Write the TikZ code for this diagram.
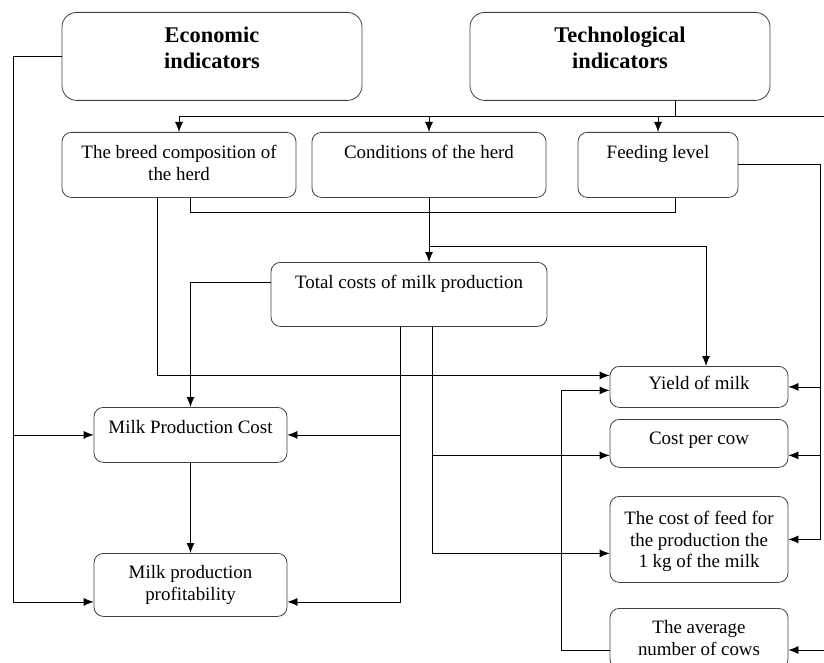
\documentclass[tikz,border=0pt]{standalone}
\usepackage{fontspec}
\setmainfont{Liberation Serif}
\usetikzlibrary{arrows.meta}

\begin{document}
\begin{tikzpicture}[
x=0.75pt, y=-0.75pt,
>={Latex[length=7.5pt,width=6pt]},
line width=0.6pt,
roundbox/.style={draw=black!75, rounded corners=7pt, align=center, anchor=north, inner sep=0pt,
  font=\fontsize{14.2}{16}\selectfont, minimum width=175.5pt},
headbox/.style={roundbox, rounded corners=11pt, font=\fontsize{16.8}{19}\selectfont\bfseries, minimum width=225pt,
  text height=41.75pt, text depth=24.25pt},
]
\useasboundingbox (0,0) rectangle (824,663);
\clip (0,0) rectangle (824,663);
%Nodes
\node[headbox]      (econ)   at (212,12)   {Economic\\indicators};
\node[headbox]      (tech)   at (620,12)   {Technological\\indicators};
\node[roundbox, text height=35.75pt, text depth=13pt]  (breed)  at (179,132)  {The breed composition of\\the herd};
\node[roundbox, text height=19.75pt, text depth=29pt]  (cond)   at (429,132)  {Conditions of the herd};
\node[roundbox, text height=19.75pt, text depth=29pt, minimum width=120pt]  (feed)   at (658,132)  {Feeding level};
\node[roundbox, text height=19.75pt, text depth=28.25pt, minimum width=207pt]  (total)  at (409,262)  {Total costs of milk production};
\node[roundbox, text height=19.75pt, text depth=21.5pt, minimum width=144.75pt]  (mpc)    at (190.5,407) {Milk Production Cost};
\node[roundbox, text height=35pt, text depth=12.25pt, minimum width=144.75pt]  (mpp)    at (190.5,553) {Milk production\\profitability};
\node[roundbox, text height=17.5pt, text depth=13.25pt, minimum width=133.5pt]  (yield)  at (699,366)  {Yield of milk};
\node[roundbox, text height=19pt, text depth=17pt, minimum width=133.5pt]  (cpc)    at (699,419)  {Cost per cow};
\node[roundbox, text height=53.25pt, text depth=11.25pt, minimum width=133.5pt]  (cfeed)  at (699,496)  {The cost of feed for\\the production the\\1 kg of the milk};
\node[roundbox, text height=35pt, text depth=10pt, minimum width=133.5pt]  (avg)    at (699,608)  {The average\\number of cows};

%Coordinates
\coordinate (tbus)    at (0,116);
\coordinate (ybranch) at (0,246);
\coordinate (rline)   at (820,0);
\coordinate (redge)   at (824,650);
\coordinate (eleft)   at (13,0);
\coordinate (tdown)   at ([xshift=-6.75pt]total.south);
\coordinate (tdown2)  at ([xshift=17.25pt]total.south);
\coordinate (cpcin)   at ([yshift=-9pt]cpc.west);
\coordinate (cpcout)  at ([yshift=-9pt]cpc.east);

%Lines
\draw (econ.west) -| (eleft |- mpc.west);
\draw[->] (eleft |- mpc.west) |- ([yshift=-12.75pt]mpp.west);
\draw[->] (eleft |- mpc.west) -- (mpc.west);
\draw ([xshift=41.25pt]tech.south) |- (tbus -| redge);
\draw (tbus -| breed.north) -- ([xshift=41.25pt]tech.south |- tbus);
\draw[->] (tbus -| breed.north) -- (breed.north);
\draw[->] (tbus -| cond.north) -- (cond.north);
\draw[->] (tbus -| feed.north) -- (feed.north);
\draw[->] (feed.east) -| (rline |- cfeed.east) -- (cfeed.east);
\draw[->] (rline |- yield.east) -- (yield.east);
\draw[->] (rline |- cpcout) -- (cpcout);
\draw[->] (redge) -- (avg.east |- redge);
\draw[->] ([xshift=-16.5pt]breed.south) |- ([yshift=8.6pt]yield.west);
\draw ([xshift=8.25pt]breed.south) -- ++(0,15) -| ([xshift=12.75pt]feed.south);
\draw[->] (cond.south) -- (cond.south |- total.north);
\draw[->] (cond.south |- ybranch) -| ([xshift=5.25pt]yield.north);
\draw[->] ([yshift=9pt]total.west) -| (mpc.north);
\draw[->] (tdown) |- ([yshift=-12.75pt]mpp.east);
\draw[->] (tdown |- mpc.east) -- (mpc.east);
\draw[->] (tdown2) |- ([yshift=-10.5pt]cfeed.west);
\draw[->] (tdown2 |- cpcin) -- (cpcin);
\draw[->] (mpc.south) -- (mpp.north);
\draw[->] ([yshift=-9pt]avg.west) -- ++(-48,0) |- ([yshift=-2.6pt]yield.west);

\end{tikzpicture}
\end{document}
